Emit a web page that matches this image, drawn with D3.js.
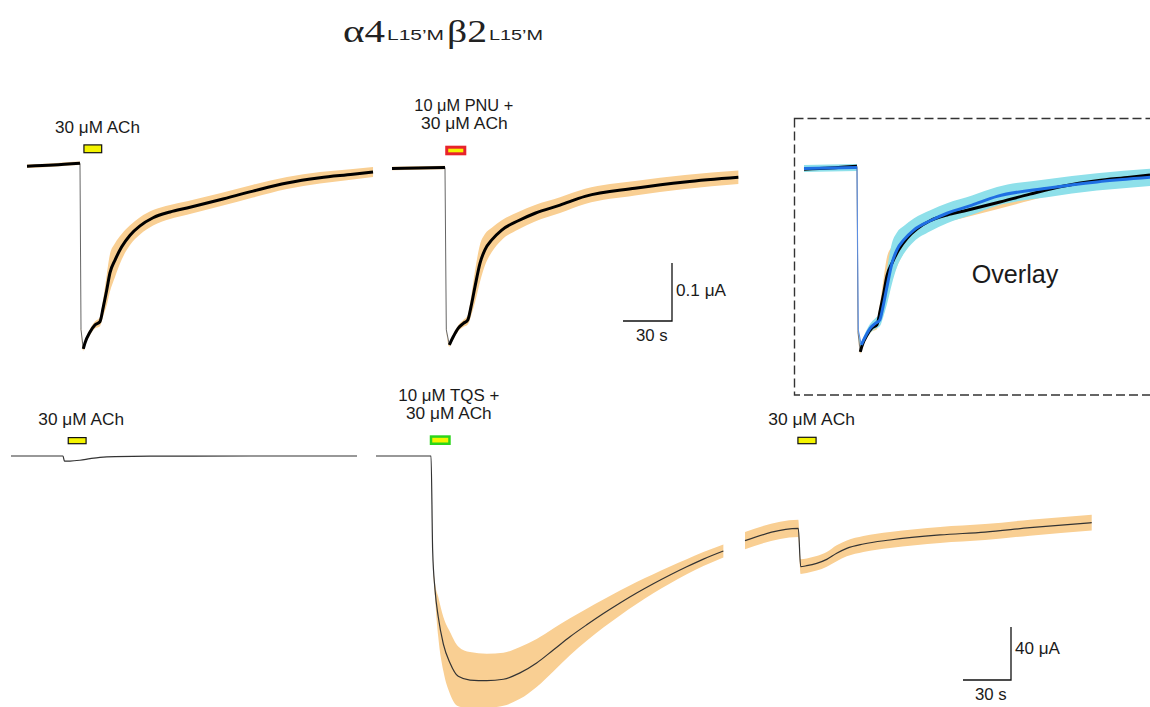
<!DOCTYPE html>
<html>
<head>
<meta charset="utf-8">
<script src="https://cdn.jsdelivr.net/npm/d3@7"></script>
<style>
  body { margin: 0; background: #fff; }
  svg { display: block; }
  text { font-family: "Liberation Sans", Arial, sans-serif; fill: #1a1a1a; }
</style>
</head>
<body>
<svg id="chart" width="1150" height="707"></svg>
<script>
// Mean whole-cell current (μA) ± SEM against time (s) for α4(L15'M)β2(L15'M) receptors.

// 30 μM ACh, upper row
const achTime    = [0, 16, 32.45, 33.07, 34.48, 35.5, 38.6, 41.6, 44.7, 46.7, 48.8, 50.8, 53.9, 58.0, 63.1, 69.2, 77.2, 87.6, 98.0, 118.2, 138.4, 159.2, 179.4, 199.6, 211.9];
const achCurrent = [-0.002, 0.0, 0.003, -0.284, -0.317, -0.307, -0.288, -0.276, -0.270, -0.245, -0.216, -0.186, -0.164, -0.141, -0.121, -0.105, -0.091, -0.081, -0.074, -0.060, -0.045, -0.031, -0.022, -0.016, -0.012];
const achSem     = [0.003, 0.003, 0.003, 0.002, 0.003, 0.004, 0.005, 0.006, 0.008, 0.015, 0.026, 0.032, 0.029, 0.022, 0.017, 0.015, 0.0135, 0.0122, 0.0117, 0.0113, 0.011, 0.0104, 0.0098, 0.009, 0.0086];

// 10 μM PNU + 30 μM ACh
const pnuTime    = [0, 16, 32.45, 33.25, 35.1, 37.5, 40.6, 43.7, 46.4, 48.4, 50.8, 53.9, 56.9, 61.1, 67.2, 77.3, 87.6, 102.9, 118.2, 148.8, 179.4, 212.1];
const pnuCurrent = [-0.001, 0.0, 0.001, -0.279, -0.305, -0.291, -0.276, -0.268, -0.262, -0.239, -0.205, -0.164, -0.141, -0.124, -0.107, -0.091, -0.078, -0.064, -0.049, -0.035, -0.024, -0.016];
const pnuSem     = [0.003, 0.003, 0.003, 0.002, 0.003, 0.004, 0.005, 0.006, 0.008, 0.016, 0.027, 0.032, 0.027, 0.021, 0.017, 0.015, 0.0142, 0.0136, 0.0132, 0.0126, 0.012, 0.0118];

// 30 μM ACh, lower row (before TQS)
const achPreTime    = [0, 32.5, 33.4, 36.9, 43.1, 49.4, 55.6, 65, 86.9, 150, 216.25];
const achPreCurrent = [0, 0, -3.8, -3.8, -3.2, -2.0, -1.0, -0.4, -0.15, 0, 0];

// 10 μM TQS + 30 μM ACh
const tqsTime    = [0, 34.4, 35.4, 36.9, 38.9, 42.1, 46.25, 51.4, 58.75, 69.2, 79.6, 90, 100.4, 110.8, 121.25, 131.7, 142.1, 152.5, 162.9, 173.3, 183.75, 194.2, 204.6, 217.1];
const tqsCurrent = [0, 0, -70.9, -101.1, -121.3, -141.9, -156.2, -166.3, -169.1, -169.6, -168.5, -163.7, -156.2, -146.4, -136.4, -127.4, -118.9, -110.9, -103.4, -96.4, -89.8, -83.6, -77.8, -71.7];
const tqsSem     = [0, 0, 0, 5.3, 15.1, 20.4, 23.4, 22.6, 21.1, 20.4, 20, 19.6, 18.1, 16.2, 14, 12.1, 10.6, 9.4, 8.3, 7.2, 6.4, 5.7, 5.3, 4.9];

// 30 μM ACh, lower row (after TQS)
const achPostTime    = [0, 33.3, 34.8, 38.6, 44.8, 51.1, 57.3, 63.6, 74, 90.6, 121.9, 150, 178.1, 216.7];
const achPostCurrent = [-63.9, -54.6, -83.5, -82.8, -81.0, -78.0, -73.4, -69.7, -66.4, -63.4, -59.6, -57.4, -54.1, -50.3];
const achPostSem     = [6.5, 6.5, 5.5, 5.5, 5.5, 5.5, 6, 6, 6, 6, 6, 6, 6, 6];

// Drug application windows (s): [start, end]
const appWindows = {
  achTop:  [34.5, 46.1],
  pnu:     [32.6, 45.5],
  achPre:  [35.4, 47.3],
  tqs:     [33.6, 46.7],
  achPost: [32.7, 44.8]
};

// Scale bars
const scaleTime = 30;        // s
const scaleTop = 0.1;        // μA
const scaleBottom = 40;      // μA

const svg = d3.select("#chart");

const BAND = "#f9cf93";
const BAND_CYAN = "#8ee0ea";
const BLUE = "#1f6fe3";

// Upper row: 1.633 px/s, 580 px/μA; lower row: 1.6 px/s, 1.325 px/μA
function topScales(x0, y0) {
  return {
    x: d3.scaleLinear().domain([0, 212]).range([x0, x0 + 212 * 1.633]),
    y: d3.scaleLinear().domain([0, -0.35]).range([y0, y0 + 0.35 * 580])
  };
}
function bottomScales(x0, y0) {
  return {
    x: d3.scaleLinear().domain([0, 217]).range([x0, x0 + 217 * 1.6]),
    y: d3.scaleLinear().domain([0, -200]).range([y0, y0 + 200 * 1.325])
  };
}

function points(time, current, sem) {
  return time.map((t, i) => ({ t, v: current[i], s: sem ? sem[i] : 0 }));
}

function drawBand(g, sc, pts, color) {
  g.append("path").datum(pts)
    .attr("d", d3.area().curve(d3.curveMonotoneX)
      .x(d => sc.x(d.t)).y0(d => sc.y(d.v - d.s)).y1(d => sc.y(d.v + d.s)))
    .attr("fill", color);
}

// Heavy mean line with a thin fast-drop segment
function drawTopLine(g, sc, pts, dropIdx, color, dropColor) {
  g.append("path").datum(pts.slice(dropIdx - 1, dropIdx + 2))
    .attr("d", d3.line().x(d => sc.x(d.t)).y(d => sc.y(d.v)))
    .attr("fill", "none").attr("stroke", dropColor).attr("stroke-width", 1);
  g.append("path").datum(pts)
    .attr("d", d3.line().curve(d3.curveMonotoneX).defined((d, i) => i !== dropIdx)
      .x(d => sc.x(d.t)).y(d => sc.y(d.v)))
    .attr("fill", "none").attr("stroke", color).attr("stroke-width", 3)
    .attr("stroke-linejoin", "round");
}

function drawThinLine(g, sc, pts) {
  g.append("path").datum(pts)
    .attr("d", d3.line().curve(d3.curveMonotoneX).x(d => sc.x(d.t)).y(d => sc.y(d.v)))
    .attr("fill", "none").attr("stroke", "#333").attr("stroke-width", 1.2);
}

function appBar(sc, win, yTop, yBottom, stroke, strokeW) {
  const x0 = sc.x(win[0]), x1 = sc.x(win[1]);
  svg.append("rect")
    .attr("x", x0 + strokeW / 2).attr("y", yTop + strokeW / 2)
    .attr("width", x1 - x0 - strokeW).attr("height", yBottom - yTop - strokeW)
    .attr("fill", "#f4f400").attr("stroke", stroke).attr("stroke-width", strokeW);
}

function label(txt, x, y, w, size) {
  svg.append("text").attr("x", x).attr("y", y)
    .attr("font-size", size || 16)
    .attr("textLength", w).attr("lengthAdjust", "spacingAndGlyphs")
    .text(txt);
}

// ---- Title ----
const title = [
  { t: "α4", x: 343, y: 41.5, w: 42, serif: true },
  { t: "L15’M", x: 387, y: 39.5, w: 57, serif: false },
  { t: "β2", x: 447, y: 41.5, w: 40, serif: true },
  { t: "L15’M", x: 489, y: 39.5, w: 54, serif: false }
];
title.forEach(p => {
  svg.append("text").attr("x", p.x).attr("y", p.y)
    .style("font-family", p.serif ? "'Liberation Serif', 'Times New Roman', serif" : "'Liberation Sans', Arial, sans-serif")
    .attr("font-size", p.serif ? 31 : 14)
    .attr("textLength", p.w).attr("lengthAdjust", "spacingAndGlyphs")
    .style("fill", "#222")
    .text(p.t);
});

// ---- Upper left: ACh ----
const tl = topScales(27, 165);
const gTL = svg.append("g");
const achPts = points(achTime, achCurrent, achSem);
drawBand(gTL, tl, achPts, BAND);
drawTopLine(gTL, tl, achPts, 3, "#000", "#666");
appBar(tl, appWindows.achTop, 144.3, 153.3, "#111", 1.2);
label("30 μM ACh", 55, 133, 85);

// ---- Upper middle: PNU + ACh ----
const tm = topScales(392, 168);
const gTM = svg.append("g");
const pnuPts = points(pnuTime, pnuCurrent, pnuSem);
drawBand(gTM, tm, pnuPts, BAND);
drawTopLine(gTM, tm, pnuPts, 3, "#000", "#666");
appBar(tm, appWindows.pnu, 145.7, 155.3, "#e8232b", 3);
label("10 μM PNU +", 414.3, 110.7, 99);
label("30 μM ACh", 421, 129.3, 86.7);

// Upper scale bar
{
  const cx = 672, cy = 321;
  const lenX = tm.x(scaleTime) - tm.x(0);
  const lenY = tm.y(-scaleTop) - tm.y(0);
  svg.append("path")
    .attr("d", `M${cx - lenX},${cy}H${cx}V${cy - lenY}`)
    .attr("fill", "none").attr("stroke", "#111").attr("stroke-width", 1.3);
  label(`${scaleTop} μA`, cx + 4, 295.7, 50);
  label(`${scaleTime} s`, cx - 36, 340.5, 31.7);
}

// ---- Overlay ----
const ov = topScales(804, 168);
const gOV = svg.append("g");
svg.append("rect")
  .attr("x", 794.5).attr("y", 118.5).attr("width", 365).attr("height", 276.5)
  .attr("fill", "none").attr("stroke", "#333").attr("stroke-width", 1.4)
  .attr("stroke-dasharray", "9,4");
drawBand(gOV, ov, achPts, BAND);
drawBand(gOV, ov, pnuPts.map(d => ({ t: d.t, v: d.v, s: d.s + 0.003 })), BAND_CYAN);
drawTopLine(gOV, ov, achPts, 3, "#000", "#777");
drawTopLine(gOV, ov, pnuPts, 3, BLUE, "#5b8fe6");
label("Overlay", 971.7, 283.3, 86.7, 25);

// ---- Lower left: ACh ----
const bl = bottomScales(11, 456);
drawThinLine(svg.append("g"), bl, points(achPreTime, achPreCurrent));
appBar(bl, appWindows.achPre, 437, 444.3, "#111", 1.2);
label("30 μM ACh", 38.3, 425, 85.7);

// ---- Lower middle: TQS + ACh ----
const bm = bottomScales(376, 456);
const gBM = svg.append("g");
const tqsPts = points(tqsTime, tqsCurrent, tqsSem);
drawBand(gBM, bm, tqsPts, BAND);
drawThinLine(gBM, bm, tqsPts);
appBar(bm, appWindows.tqs, 435.3, 445, "#2bd61a", 2.5);
label("10 μM TQS +", 398.3, 400.7, 101);
label("30 μM ACh", 406, 419.3, 85.7);

// ---- Lower right: ACh after TQS ----
const br = bottomScales(745, 456);
const gBR = svg.append("g");
const postPts = points(achPostTime, achPostCurrent, achPostSem);
drawBand(gBR, br, postPts, BAND);
drawThinLine(gBR, br, postPts);
appBar(br, appWindows.achPost, 436.7, 444.3, "#111", 1.2);
label("30 μM ACh", 768.3, 425, 86.7);

// Lower scale bar
{
  const cx = 1011, cy = 680;
  const lenX = br.x(scaleTime) - br.x(0);
  const lenY = br.y(-scaleBottom) - br.y(0);
  svg.append("path")
    .attr("d", `M${cx - lenX},${cy}H${cx}V${cy - lenY}`)
    .attr("fill", "none").attr("stroke", "#111").attr("stroke-width", 1.3);
  label(`${scaleBottom} μA`, cx + 4, 654.3, 45);
  label(`${scaleTime} s`, cx - 36, 700, 31.7);
}
</script>
</body>
</html>
